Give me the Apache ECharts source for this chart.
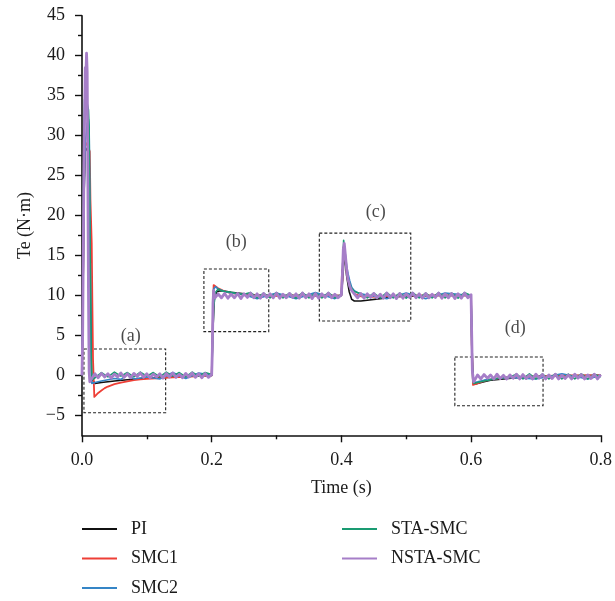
<!DOCTYPE html>
<html><head><meta charset="utf-8">
<script src="https://cdn.jsdelivr.net/npm/echarts@6/dist/echarts.min.js"></script>
<style>html,body{margin:0;padding:0;background:#fff}#c{width:615px;height:601px}</style>
</head><body><div id="c"></div>
<script>
const seriesNames = ['PI','SMC1','SMC2','STA-SMC','NSTA-SMC'];
const yMajorTicks = [-5,0,5,10,15,20,25,30,35,40,45];
const yMinorTicks = [-2.5,2.5,7.5,12.5,17.5,22.5,27.5,32.5,37.5,42.5];

const PI = [[0,0],[0.001,5],[0.003,22],[0.005,28.5],[0.008,28.3],[0.011,27.8],[0.013,12],[0.015,-0.5],[0.02,-1],[0.03,-0.9],[0.04,-0.8],[0.05,-0.7],[0.07,-0.55],[0.09,-0.4],[0.12,-0.3],[0.15,-0.15],[0.2,0],
[0.2015,5],[0.204,9.5],[0.208,10.5],[0.215,10.6],[0.23,10.4],[0.25,10.2],[0.27,10.05],[0.3,10],[0.35,10],[0.4,10],
[0.402,12],[0.405,15.5],[0.408,12.5],[0.412,10.5],[0.416,9.5],[0.42,9.3],[0.43,9.3],[0.44,9.4],[0.46,9.6],[0.48,9.8],[0.5,9.9],[0.55,10],[0.6,10],
[0.601,5],[0.603,-0.5],[0.605,-1.1],[0.61,-1],[0.62,-0.8],[0.63,-0.6],[0.65,-0.45],[0.67,-0.3],[0.7,-0.15],[0.75,-0.05],[0.8,0]];

const SMC1 = [[0,0],[0.001,6],[0.003,24],[0.005,29.2],[0.008,28.8],[0.01,28.5],[0.012,28],[0.013,22],[0.015,16.5],[0.016,9],[0.017,2],[0.019,-2.7],[0.022,-2.5],[0.025,-2.2],[0.03,-1.9],[0.035,-1.6],[0.04,-1.4],[0.05,-1.1],[0.06,-0.9],[0.07,-0.75],[0.08,-0.6],[0.09,-0.5],[0.1,-0.45],[0.12,-0.35],[0.14,-0.25],[0.16,-0.2],[0.18,-0.1],[0.2,0],
[0.2015,6],[0.203,11.3],[0.206,11.2],[0.21,10.9],[0.215,10.7],[0.22,10.5],[0.23,10.3],[0.25,10.1],[0.27,10],[0.3,9.95],[0.33,10],[0.36,9.95],[0.4,10],
[0.401,13.2],[0.4015,11.8],[0.403,16],[0.405,15.5],[0.408,13],[0.41,12],[0.415,10.8],[0.42,10.2],[0.43,9.9],[0.44,9.8],[0.46,9.9],[0.5,10],[0.55,10],[0.6,10],
[0.601,4],[0.603,-1.2],[0.605,-1.3],[0.61,-1],[0.62,-0.7],[0.63,-0.5],[0.65,-0.3],[0.7,-0.1],[0.75,0],[0.8,0]];

const SMC2 = [[0,0],[0.001,6],[0.003,22],[0.005,29],[0.008,31.5],[0.01,32],[0.011,31],[0.012,24],[0.013,12],[0.014,2],[0.015,-1],[0.02,-0.9],[0.03,-0.7],[0.04,-0.55],[0.05,-0.4],[0.06,-0.5],[0.07,0.1],[0.08,-0.45],[0.1,-0.2],[0.12,-0.45],[0.14,0.35],[0.16,-0.4],[0.18,0.3],[0.2,0],
[0.2015,6],[0.203,10.8],[0.206,11.1],[0.21,10.8],[0.22,10.5],[0.23,10.3],[0.25,10.1],[0.27,9.6],[0.3,10.3],[0.33,9.6],[0.36,10.35],[0.39,9.6],[0.4,10],
[0.402,14],[0.404,16.5],[0.406,15.2],[0.408,13.8],[0.41,12.8],[0.413,11.8],[0.416,11],[0.42,10.6],[0.425,10.35],[0.43,10.2],[0.44,10.05],[0.47,9.6],[0.5,10.3],[0.53,9.6],[0.56,10.3],[0.6,10],
[0.601,6],[0.602,1],[0.604,-0.9],[0.61,-0.8],[0.62,-0.6],[0.64,-0.4],[0.66,-0.25],[0.7,-0.45],[0.74,0.2],[0.78,-0.45],[0.8,0]];

const STA_SMC = [[0,0],[0.001,8],[0.003,30],[0.004,34.5],[0.006,33.6],[0.008,34],[0.01,33.2],[0.011,31],[0.012,20],[0.013,12],[0.014,3],[0.015,-0.6],[0.02,-0.3],[0.03,0.35],[0.04,-0.2],[0.05,0.4],[0.06,-0.1],[0.07,0.35],[0.08,-0.2],[0.09,0.4],[0.1,-0.1],[0.11,0.35],[0.12,-0.2],[0.13,0.4],[0.14,-0.1],[0.15,0.35],[0.16,-0.2],[0.17,0.4],[0.18,-0.1],[0.19,0.35],[0.2,0.1],
[0.2015,4],[0.203,8.5],[0.206,10.4],[0.21,10.8],[0.215,10.6],[0.22,10.5],[0.23,10.4],[0.24,10.2],[0.25,10.15],[0.26,10.35],[0.27,9.7],[0.28,10.3],[0.29,9.7],[0.3,10.35],[0.31,9.7],[0.32,10.3],[0.33,9.65],[0.34,10.35],[0.35,9.7],[0.36,10.3],[0.37,9.7],[0.38,10.35],[0.39,9.7],[0.4,10.1],
[0.402,13],[0.4035,16.9],[0.405,15.6],[0.407,13.6],[0.41,12.1],[0.415,11],[0.42,10.5],[0.43,10.2],[0.44,9.7],[0.45,10.3],[0.46,9.7],[0.47,10.35],[0.48,9.7],[0.49,10.3],[0.5,9.65],[0.51,10.35],[0.52,9.7],[0.53,10.3],[0.54,9.7],[0.55,10.35],[0.56,9.7],[0.57,10.3],[0.58,9.65],[0.59,10.35],[0.6,10],
[0.601,4],[0.6025,-0.5],[0.604,-1],[0.61,-0.9],[0.62,-0.7],[0.63,-0.55],[0.64,-0.4],[0.65,-0.3],[0.66,-0.2],[0.67,0.15],[0.68,-0.45],[0.69,0.2],[0.7,-0.45],[0.71,0.15],[0.72,-0.45],[0.73,0.2],[0.74,-0.45],[0.75,0.15],[0.76,-0.45],[0.77,0.2],[0.78,-0.45],[0.79,0.15],[0.8,-0.2]];

const NSTA_SMC = [[0,0],[0.001,5],[0.003,26],[0.005,38.5],[0.006,37.6],[0.007,40.3],[0.008,38],[0.009,25],[0.01,10],[0.011,0.5],[0.012,-0.8],[0.015,-0.4],
[0.02,0.2],[0.025,-0.3],[0.03,0.25],[0.035,-0.2],[0.04,0.2],[0.045,-0.35],[0.05,0.15],[0.055,-0.2],[0.06,0.3],[0.065,-0.25],[0.07,0.2],[0.075,-0.3],[0.08,0.25],[0.085,-0.15],[0.09,0.3],[0.095,-0.25],[0.1,0.2],[0.105,-0.3],[0.11,0.15],[0.115,-0.2],[0.12,0.2],[0.125,-0.35],[0.13,0.25],[0.135,-0.2],[0.14,0.3],[0.145,-0.25],[0.15,0.15],[0.155,-0.3],[0.16,0.25],[0.165,-0.2],[0.17,0.3],[0.175,-0.25],[0.18,0.2],[0.185,-0.3],[0.19,0.25],[0.195,-0.25],[0.2,0.1],
[0.201,3],[0.202,9],[0.203,10.6],[0.205,9.7],[0.21,10.2],[0.215,9.7],[0.22,10.25],[0.225,9.65],[0.23,10.15],[0.235,9.7],[0.24,10.25],[0.245,9.6],[0.25,10.2],[0.255,9.75],[0.26,10.3],[0.265,9.7],[0.27,10.2],[0.275,9.65],[0.28,10.25],[0.285,9.75],[0.29,10.2],[0.295,9.7],[0.3,10.3],[0.305,9.65],[0.31,10.15],[0.315,9.7],[0.32,10.25],[0.325,9.75],[0.33,10.2],[0.335,9.65],[0.34,10.3],[0.345,9.7],[0.35,10.2],[0.355,9.6],[0.36,10.25],[0.365,9.65],[0.37,10.2],[0.375,9.75],[0.38,10.3],[0.385,9.7],[0.39,10.15],[0.395,9.7],[0.4,10.1],
[0.4015,12.5],[0.403,15.8],[0.4045,16.5],[0.406,15.2],[0.408,13.4],[0.41,12.1],[0.413,11.1],[0.416,10.6],[0.42,10.2],[0.425,9.7],[0.43,10.25],[0.435,9.65],[0.44,10.2],[0.445,9.75],[0.45,10.25],[0.455,9.7],[0.46,10.15],[0.465,9.65],[0.47,10.3],[0.475,9.7],[0.48,10.2],[0.485,9.6],[0.49,10.25],[0.495,9.65],[0.5,10.2],[0.505,9.75],[0.51,10.3],[0.515,9.7],[0.52,10.2],[0.525,9.65],[0.53,10.25],[0.535,9.7],[0.54,10.15],[0.545,9.75],[0.55,10.3],[0.555,9.65],[0.56,10.2],[0.565,9.7],[0.57,10.25],[0.575,9.6],[0.58,10.2],[0.585,9.65],[0.59,10.3],[0.595,9.7],[0.6,10.1],
[0.601,5],[0.602,0.5],[0.604,-0.8],[0.607,-0.4],[0.61,0.05],[0.615,-0.45],[0.62,0.1],[0.625,-0.35],[0.63,0.05],[0.635,-0.45],[0.64,0.15],[0.645,-0.4],[0.65,0],[0.655,-0.45],[0.66,0.05],[0.665,-0.35],[0.67,0.15],[0.675,-0.45],[0.68,0.1],[0.685,-0.4],[0.69,0],[0.695,-0.45],[0.7,0.15],[0.705,-0.35],[0.71,0.1],[0.715,-0.45],[0.72,0.05],[0.725,-0.4],[0.73,0.15],[0.735,-0.45],[0.74,0],[0.745,-0.4],[0.75,0.05],[0.755,-0.45],[0.76,0.15],[0.765,-0.35],[0.77,0.1],[0.775,-0.45],[0.78,0.05],[0.785,-0.4],[0.79,0.15],[0.795,-0.45],[0.8,0.1]];

// zoom boxes: [label, tStart, vTop, tEnd, vBottom]
const boxes = [['(a)',0.003,3.3,0.129,-4.67],['(b)',0.188,13.3,0.288,5.47],['(c)',0.366,17.8,0.507,6.8],['(d)',0.575,2.3,0.711,-3.8]];
const boxLabels = [['(a)',0.075,4.9],['(b)',0.238,16.6],['(c)',0.453,20.4],['(d)',0.668,5.9]];

const colors = ['#111111','#ee3f36','#3585c6','#1a9b72','#a67ec8'];
const lineWidths = [1.6,1.8,1.6,1.6,2.8];
const datasets = [PI, SMC1, SMC2, STA_SMC, NSTA_SMC];
const FONT = '"Liberation Serif", "DejaVu Serif", serif';

const chart = echarts.init(document.getElementById('c'), null, {renderer:'canvas'});
const lineSeries = datasets.map((d,i)=>({
  name: seriesNames[i], type:'line', data:d, showSymbol:false, symbol:'none',
  lineStyle:{width: lineWidths[i], color: colors[i], join:'round'}, itemStyle:{color: colors[i]},
  animation:false, z: 2+i
}));
lineSeries.push({
  type:'line', data:[], silent:true, animation:false, z:10,
  markArea:{silent:true, itemStyle:{color:'rgba(0,0,0,0)', borderColor:'#222', borderWidth:1.1, borderType:[3,2]},
    data: boxes.map(b=>[{coord:[b[1],b[2]]},{coord:[b[3],b[4]]}])}
});
lineSeries.push({
  type:'scatter', data: boxLabels.map(b=>({name:b[0], value:[b[1],b[2]]})), symbolSize:0, silent:true, animation:false,
  label:{show:true, position:'inside', formatter: p=>p.name, fontFamily:FONT, fontSize:18, color:'#1a1a1a'}
});

const legendCommon = {orient:'vertical', icon:'rect', itemWidth:35, itemHeight:2, itemGap:9.5, padding:0, height:100,
  textStyle:{fontFamily:FONT, fontSize:18, color:'#1a1a1a', lineHeight:20, padding:[0,0,0,9]}, selectedMode:false};

chart.setOption({
  animation:false,
  color: colors,
  grid:{left:82, right:13, top:15.7, bottom:165.7, containLabel:false},
  legend:[
    Object.assign({}, legendCommon, {left:82, top:519, data:seriesNames.slice(0,3)}),
    Object.assign({}, legendCommon, {left:342, top:519, data:seriesNames.slice(3)})
  ],
  xAxis:{type:'value', min:0, max:0.8, interval:0.2,
    name:'Time (s)', nameLocation:'middle', nameGap:44,
    nameTextStyle:{fontFamily:FONT, fontSize:18, color:'#1a1a1a'},
    axisLine:{onZero:false, lineStyle:{color:'#111', width:1.6}},
    axisTick:{length:7, lineStyle:{color:'#111', width:1.4}},
    minorTick:{show:true, splitNumber:2, length:4, lineStyle:{color:'#111', width:1.4}},
    splitLine:{show:false},
    axisLabel:{margin:16, fontFamily:FONT, fontSize:18, color:'#1a1a1a', formatter:v=>v.toFixed(1)}
  },
  yAxis:[{type:'value', min:-7.5, max:45,
    name:'Te (N·m)', nameLocation:'middle', nameGap:48, nameRotate:90,
    nameTextStyle:{fontFamily:FONT, fontSize:18, color:'#1a1a1a'},
    axisLine:{onZero:false, lineStyle:{color:'#111', width:1.6}},
    axisTick:{length:4, customValues:yMinorTicks, lineStyle:{color:'#111', width:1.4}},
    splitLine:{show:false},
    axisLabel:{customValues:yMajorTicks, margin:17, fontFamily:FONT, fontSize:18, color:'#1a1a1a',
      formatter:v=>String(v).replace('-','\u2212')}
  },{type:'value', min:-7.5, max:45, position:'left',
    axisLine:{show:false, onZero:false}, splitLine:{show:false}, axisLabel:{show:false},
    axisTick:{show:true, length:7, customValues:yMajorTicks, lineStyle:{color:'#111', width:1.4}}
  }],
  series: lineSeries
});
</script></body></html>
